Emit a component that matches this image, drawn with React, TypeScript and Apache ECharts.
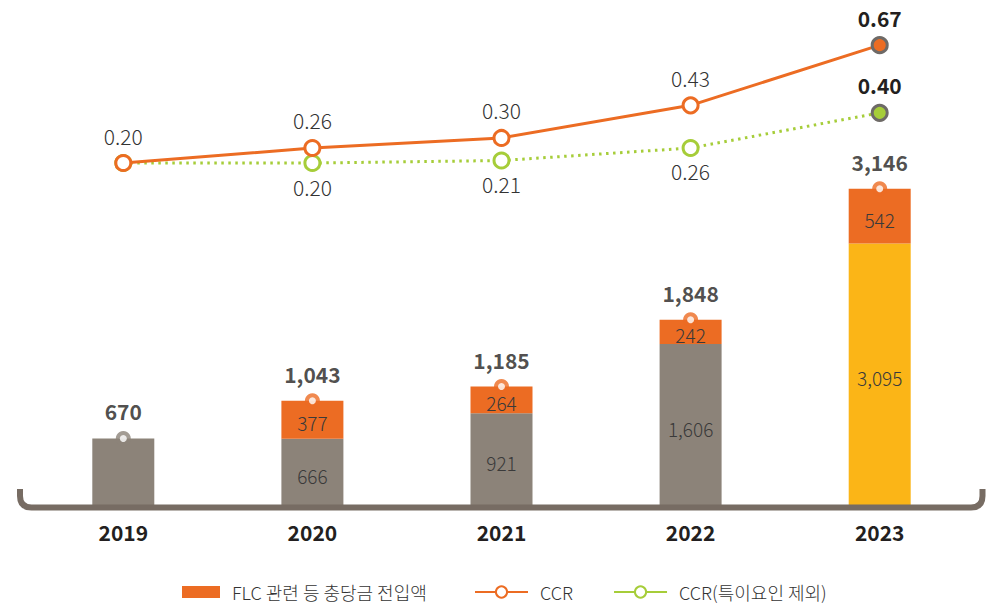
import React, { useEffect, useRef } from "react";
import * as echarts from "echarts";

const years = ["2019", "2020", "2021", "2022", "2023"];
const baseValues = [670, 666, 921, 1606, 2604];
const baseLabels = ["", "666", "921", "1,606", "3,095"];
const flcValues = [0, 377, 264, 242, 542];
const totals = [670, 1043, 1185, 1848, 3146];
const ccr = [0.2, 0.26, 0.3, 0.43, 0.67];
const ccrEx = [0.2, 0.2, 0.21, 0.26, 0.4];

const FLC_NAME = "FLC 관련 등 충당금 전입액";
const CCR_NAME = "CCR";
const CCREX_NAME = "CCR(특이요인 제외)";

const GRAY = "#8c8379";
const ORANGE = "#ec6c23";
const YELLOW = "#fbb517";
const GREEN = "#a6cd39";
const DARK = "#6e6a67";
const TEXT = "#231f20";
const FONT = "'Noto Sans CJK KR', 'Noto Sans', sans-serif";

let registered = false;
function ensureShape() {
  if (registered) return;
  registered = true;
  echarts.graphic.registerShape(
    "bracket",
    echarts.graphic.extendPath(
      "M20 489 L20 496 Q20 507.5 31.5 507.5 L971 507.5 Q982.5 507.5 982.5 496 L982.5 489",
      {}
    ) as any
  );
}

export default function App() {
  const ref = useRef<HTMLDivElement>(null);
  useEffect(() => {
    if (!ref.current) return;
    ensureShape();
    const chart = echarts.init(ref.current, null, { renderer: "svg" });
    const lastIdx = years.length - 1;
    const legendText = {
      fontSize: 18,
      color: "#333",
      fontFamily: FONT,
      fontWeight: 300,
      padding: [0, 0, 0, 7],
    };
    chart.setOption({
      animation: false,
      textStyle: { fontFamily: FONT },
      grid: { left: 28.75, right: 27.75, top: 20, bottom: 99 },
      xAxis: {
        type: "category",
        data: years,
        axisLine: { show: false },
        axisTick: { show: false },
        axisLabel: { fontSize: 21, fontWeight: "bold", color: TEXT, margin: 15, fontFamily: FONT },
      },
      yAxis: [
        { type: "value", min: 0, max: 4820, show: false },
        { type: "value", min: -1.1675, max: 0.7703, show: false },
      ],
      legend: [
        {
          left: 177,
          top: 578,
          itemWidth: 38,
          itemHeight: 12,
          data: [{ name: FLC_NAME, icon: "rect" }],
          textStyle: legendText,
          selectedMode: false,
        },
        {
          left: 469,
          top: 578,
          itemWidth: 53,
          itemHeight: 14,
          itemGap: 40,
          data: [
            { name: CCR_NAME },
            { name: CCREX_NAME, lineStyle: { type: "solid" } },
          ],
          textStyle: legendText,
          selectedMode: false,
        },
      ],
      series: [
        {
          type: "bar",
          stack: "total",
          barWidth: 62,
          data: baseValues.map((v, i) => ({
            value: v,
            itemStyle: { color: i === lastIdx ? YELLOW : GRAY },
          })),
          label: {
            show: true,
            position: "inside",
            offset: [0, 3],
            formatter: (p: any) => baseLabels[p.dataIndex],
            fontSize: 19,
            fontWeight: 300,
            color: "#3a3a3a",
            fontFamily: FONT,
          },
          z: 2,
        },
        {
          name: FLC_NAME,
          type: "bar",
          stack: "total",
          barWidth: 62,
          itemStyle: { color: ORANGE },
          data: flcValues,
          label: {
            show: true,
            position: "inside",
            offset: [0, 3],
            formatter: (p: any) => (p.value ? String(p.value) : ""),
            fontSize: 19,
            fontWeight: 300,
            color: "#3a3a3a",
            fontFamily: FONT,
          },
          z: 2,
        },
        {
          type: "scatter",
          symbol: "circle",
          symbolSize: 15,
          data: totals.map((v, i) => ({
            value: v,
            itemStyle: { color: flcValues[i] > 0 ? ORANGE : GRAY },
          })),
          label: {
            show: true,
            position: "top",
            distance: 9,
            fontSize: 21,
            fontWeight: "bold",
            color: TEXT,
            fontFamily: FONT,
            formatter: (p: any) => Number(p.value).toLocaleString("en-US"),
          },
          silent: true,
          z: 3,
        },
        {
          type: "scatter",
          symbol: "circle",
          symbolSize: 7,
          itemStyle: { color: "#ffffff" },
          data: totals,
          silent: true,
          z: 4,
        },
        {
          name: CCREX_NAME,
          type: "line",
          yAxisIndex: 1,
          symbol: "circle",
          symbolSize: 15,
          lineStyle: { color: GREEN, width: 3, type: [2.5, 4.5] },
          itemStyle: { color: "#ffffff", borderColor: GREEN, borderWidth: 3 },
          data: ccrEx.map((v, i) => {
            if (i === 0) return { value: v, label: { show: false } };
            if (i === lastIdx)
              return {
                value: v,
                itemStyle: { color: GREEN, borderColor: DARK, borderWidth: 3 },
                label: { position: "top", distance: 8, fontWeight: "bold", color: TEXT },
              };
            return { value: v };
          }),
          label: {
            show: true,
            position: "bottom",
            distance: 4,
            fontSize: 21,
            fontWeight: 300,
            color: "#333",
            fontFamily: FONT,
            formatter: (p: any) => Number(p.value).toFixed(2),
          },
          z: 9,
        },
        {
          name: CCR_NAME,
          type: "line",
          yAxisIndex: 1,
          symbol: "circle",
          symbolSize: 15,
          lineStyle: { color: ORANGE, width: 3 },
          itemStyle: { color: "#ffffff", borderColor: ORANGE, borderWidth: 3 },
          data: ccr.map((v, i) =>
            i === lastIdx
              ? {
                  value: v,
                  itemStyle: { color: ORANGE, borderColor: DARK, borderWidth: 3 },
                  label: { fontWeight: "bold", color: TEXT },
                }
              : { value: v }
          ),
          label: {
            show: true,
            position: "top",
            distance: 8,
            fontSize: 21,
            fontWeight: 300,
            color: "#333",
            fontFamily: FONT,
            formatter: (p: any) => Number(p.value).toFixed(2),
          },
          z: 10,
        },
      ],
      graphic: [
        {
          type: "bracket",
          x: 0,
          y: 0,
          z: 100,
          silent: true,
          style: { fill: "none", stroke: "#776c63", lineWidth: 6 },
        },
      ],
    });
    return () => chart.dispose();
  }, []);
  return (
    <div
      ref={ref}
      style={{ position: "absolute", left: 0, top: 0, width: 1002, height: 605, background: "#fff" }}
    />
  );
}
